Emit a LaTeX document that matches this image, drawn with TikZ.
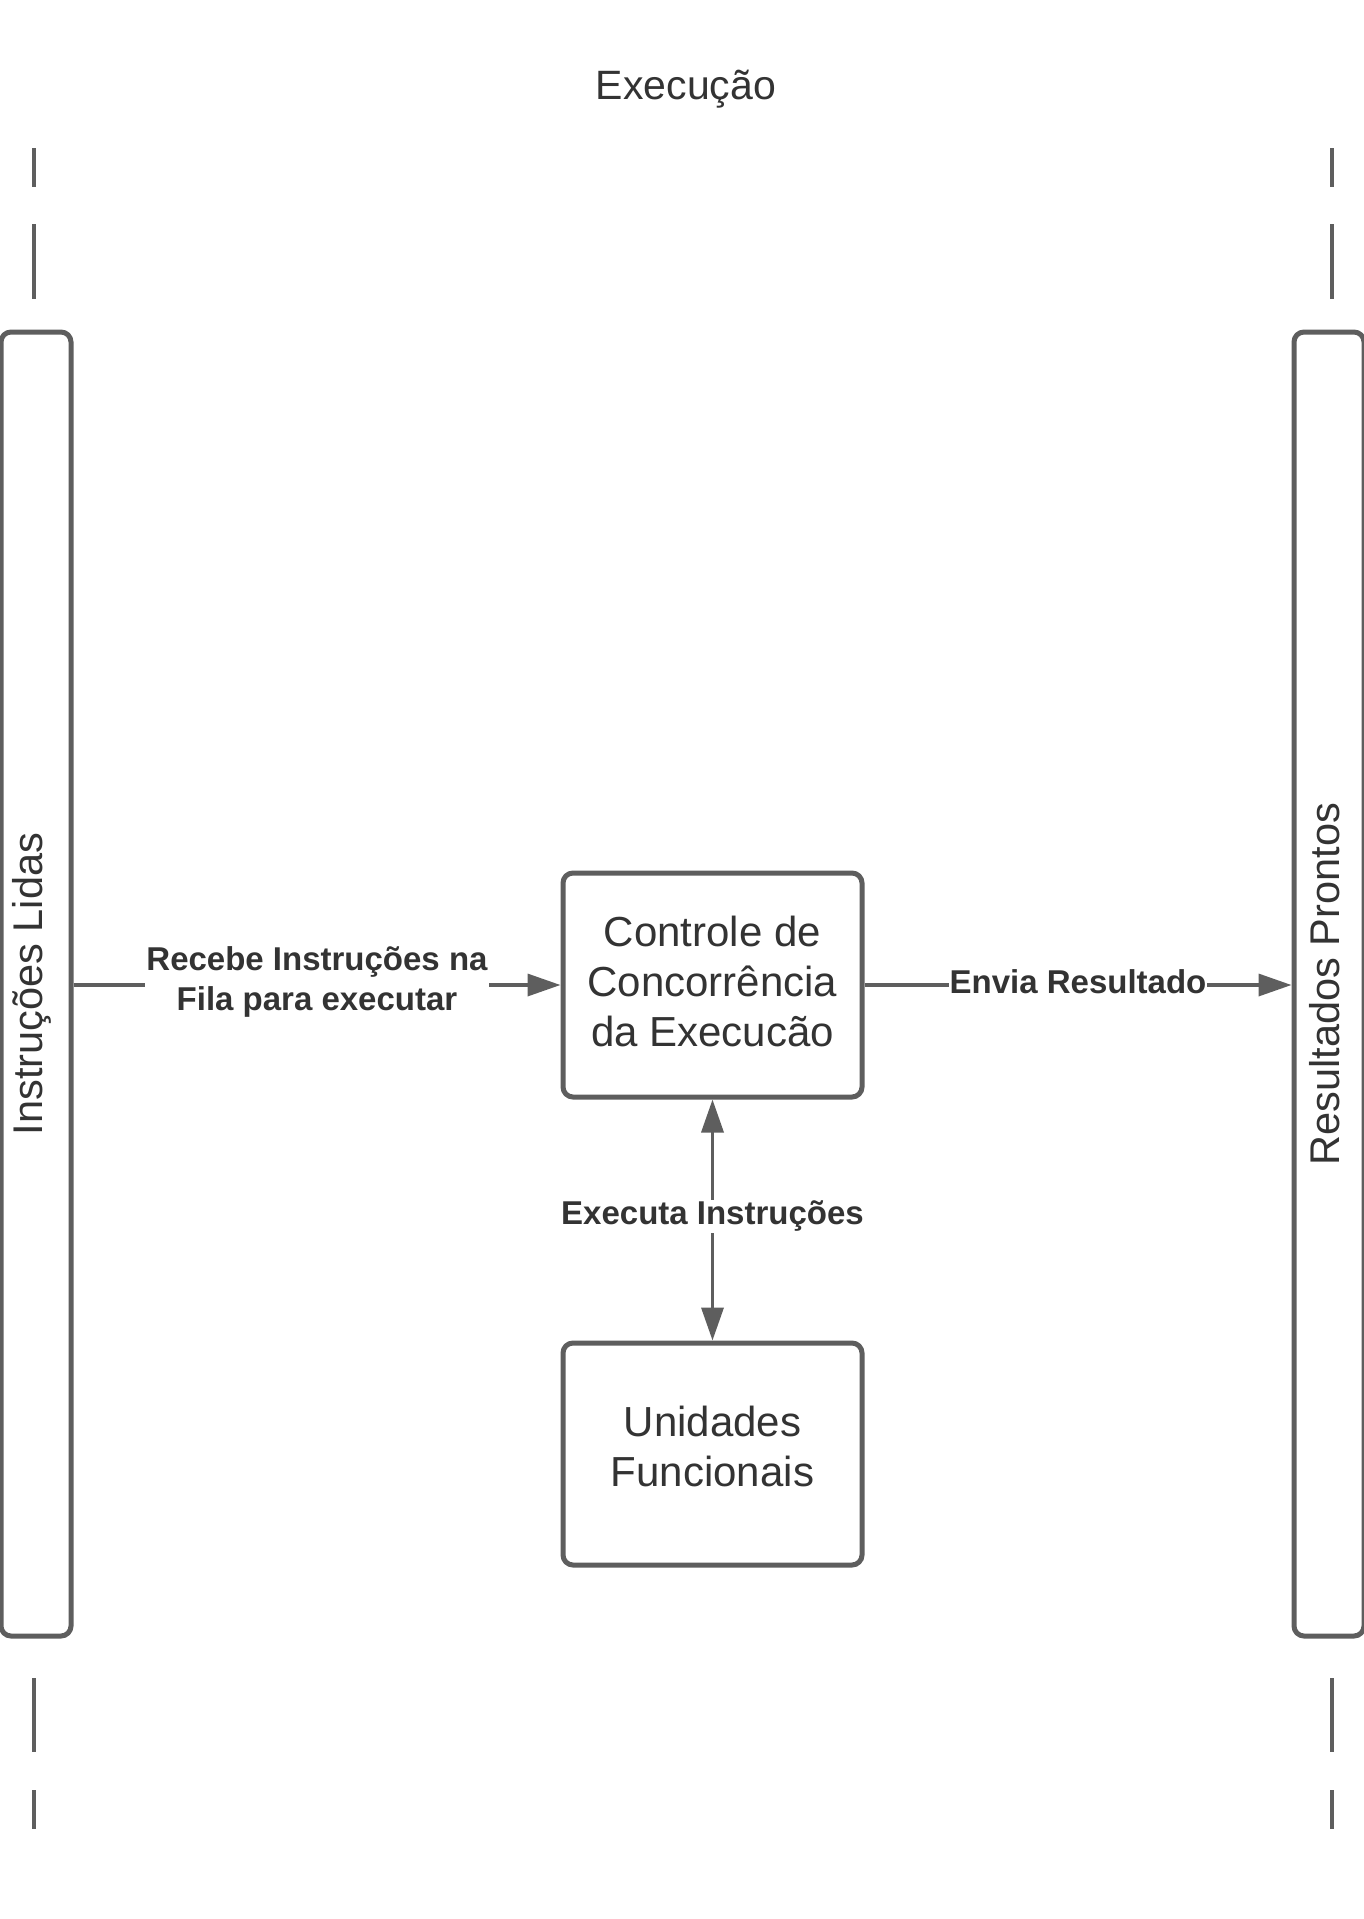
\documentclass[tikz,border=0pt]{standalone}
\usepackage{fontspec}
\setmainfont{Liberation Sans}
\usetikzlibrary{arrows.meta}
\definecolor{strk}{HTML}{5E5E5E}
\definecolor{txt}{HTML}{333333}
\begin{document}
\begin{tikzpicture}[x=1pt,y=-1pt,
  box/.style={draw=strk, line width=5pt, rounded corners=10pt, fill=white, inner sep=0pt},
  boxtext/.style={text=txt, align=center, font=\fontsize{42}{50}\selectfont, inner sep=0pt},
  lane/.style={draw=strk, line width=5pt, rounded corners=10pt, inner sep=0pt},
  lanelabel/.style={text=txt, font=\fontsize{41.5}{48}\selectfont, rotate=90, inner sep=0pt},
  conn/.style={draw=strk, line width=3.5pt, -{Triangle[length=33pt,width=22pt]}},
  biconn/.style={draw=strk, line width=3.5pt, {Triangle[length=33pt,width=22pt]}-{Triangle[length=33pt,width=22pt]}},
  lbl/.style={fill=white, text=txt, font=\bfseries\fontsize{33}{40}\selectfont, align=center, inner sep=1pt, yshift=3.5pt},
  tick/.style={draw=strk, line width=3.7pt}]
\useasboundingbox (0,0) rectangle (1363,1919);
\fill[white] (0,0) rectangle (1363,1919);

% title
\node[text=txt, font=\fontsize{41}{48}\selectfont, anchor=base, inner sep=0pt] (title) at (686,99.5) {Execução};

% lane separators
\draw[tick] (34,148) -- (34,187) (34,224) -- (34,299);
\draw[tick] (1332,148) -- (1332,187) (1332,224) -- (1332,299);
\draw[tick] (34,1678) -- (34,1752) (34,1790) -- (34,1829);
\draw[tick] (1332,1678) -- (1332,1752) (1332,1790) -- (1332,1829);

% lanes
\node[lane, minimum width=70pt, minimum height=1304pt] (L) at (36,984) {};
\node[lanelabel] (Ltxt) at (32,984) {Instruções Lidas};
\node[lane, minimum width=70pt, minimum height=1304pt] (R) at (1329,984) {};
\node[lanelabel] (Rtxt) at (1325,984) {Resultados Prontos};

% boxes
\node[box, minimum width=299pt, minimum height=224pt] (C) at (712.5,985) {};
\node[boxtext, yshift=4pt] (Ctxt) at (C.center) {Controle de\\Concorrência\\da Execucão};
\node[box, minimum width=299pt, minimum height=222pt] (U) at (712.5,1454) {};
\node[boxtext, yshift=8pt] (Utxt) at (U.center) {Unidades\\Funcionais};

% connectors
\draw[conn] (L.east |- C.west) -- node[lbl] {Recebe Instruções na\\Fila para executar} (C.west);
\draw[conn] (C.east) -- node[lbl] {Envia Resultado} (R.west |- C.east);
\draw[biconn] (C.south) -- node[lbl] {Executa Instruções} (U.north);
\end{tikzpicture}
\end{document}
